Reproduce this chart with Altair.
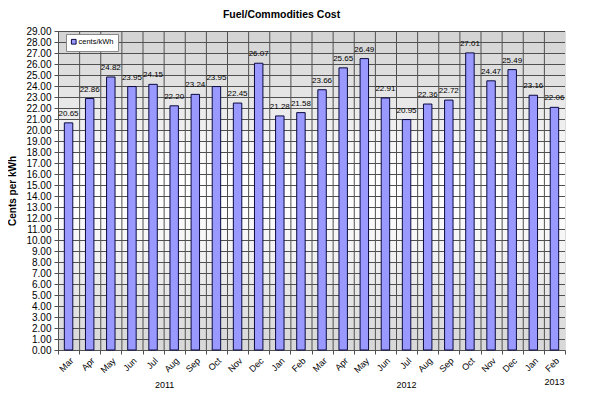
import altair as alt
import pandas as pd

months = ["Mar", "Apr", "May", "Jun", "Jul", "Aug", "Sep", "Oct", "Nov", "Dec",
          "Jan", "Feb", "Mar", "Apr", "May", "Jun", "Jul", "Aug", "Sep", "Oct",
          "Nov", "Dec", "Jan", "Feb"]
years = [2011] * 10 + [2012] * 12 + [2013] * 2
values = [20.65, 22.86, 24.82, 23.95, 24.15, 22.20, 23.24, 23.95, 22.45, 26.07,
          21.28, 21.58, 23.66, 25.65, 26.49, 22.91, 20.95, 22.36, 22.72, 27.01,
          24.47, 25.49, 23.16, 22.06]
series_name = "cents/kWh"
y_ticks = list(range(0, 30))

year_labels = ["2011", "2012", "2013"]
year_anchor_key = ["Aug 2011", "Jul 2012", "Feb 2013"]

keys = [f"{m} {y}" for m, y in zip(months, years)]
df = pd.DataFrame({"key": keys, "value": values, "series": series_name})
tick_df = pd.DataFrame({"t": y_ticks})
band_df = pd.DataFrame({"lo": y_ticks[:-1], "hi": y_ticks[1:]})
band_df["mid"] = (band_df["lo"] + band_df["hi"]) / 2
year_df = pd.DataFrame({"year": year_labels, "key": year_anchor_key})

FONT = "Liberation Sans"
GRID = "#505050"
W, H = 507, 319

y_scale = alt.Scale(domain=[0, 29], nice=False)
x_scale = alt.Scale(domain=keys, paddingInner=0, paddingOuter=0)

x_axis = alt.Axis(
    title=None,
    labelAngle=-45,
    labelExpr="split(datum.label, ' ')[0]",
    labelFont=FONT,
    labelFontSize=9,
    labelColor="#000000",
    tickBand="extent",
    grid=False,
    tickColor=GRID,
    tickSize=4,
    domainColor=GRID,
    labelPadding=2,
)
y_axis = alt.Axis(
    title="Cents per kWh",
    titleFont=FONT,
    titleFontSize=10,
    titleFontWeight="bold",
    titleColor="#000000",
    titlePadding=8,
    values=y_ticks,
    format=".2f",
    labelFont=FONT,
    labelFontSize=10,
    labelColor="#000000",
    labelOverlap=False,
    labelBound=False,
    grid=False,
    tickColor=GRID,
    tickSize=4,
    domainColor=GRID,
    labelPadding=3,
)

bg = alt.Chart(band_df).mark_rect(strokeWidth=0).encode(
    y=alt.Y("hi:Q", scale=y_scale, axis=y_axis),
    y2="lo:Q",
    fill=alt.Fill(
        "mid:Q",
        scale=alt.Scale(domain=[0, 13, 16, 29], range=["#d6d6d6", "#ffffff", "#ffffff", "#d2d2d2"]),
        legend=None,
    ),
)

hgrid = alt.Chart(tick_df).mark_rule(color=GRID, strokeWidth=1, yOffset=0.5).encode(
    y=alt.Y("t:Q", scale=y_scale, axis=y_axis)
)

vgrid = alt.Chart(df).mark_rule(color=GRID, strokeWidth=1, xOffset=0.5).encode(
    x=alt.X("key:N", sort=keys, scale=x_scale, bandPosition=0, axis=x_axis)
)

bars = alt.Chart(df).mark_bar(
    width=alt.RelativeBandSize(0.4),
    stroke="#0a0a40",
    strokeWidth=1,
).encode(
    x=alt.X("key:N", sort=keys, scale=x_scale, axis=x_axis),
    y=alt.Y("value:Q", scale=y_scale, axis=y_axis),
    color=alt.Color(
        "series:N",
        scale=alt.Scale(domain=[series_name], range=["#9999ff"]),
        legend=alt.Legend(
            title=None,
            orient="none",
            legendX=8,
            legendY=3,
            fillColor="#ffffff",
            strokeColor="#888888",
            padding=4,
            symbolType="square",
            symbolSize=22,
            symbolStrokeColor="#0a0a40",
            symbolStrokeWidth=1,
            labelFont=FONT,
            labelFontSize=7.5,
            labelColor="#000000",
            labelOffset=1,
        ),
    ),
)

labels = alt.Chart(df).mark_text(
    dy=-9, font=FONT, fontSize=8, color="#000000"
).encode(
    x=alt.X("key:N", sort=keys, scale=x_scale, axis=x_axis),
    y=alt.Y("value:Q", scale=y_scale, axis=y_axis),
    text=alt.Text("value:Q", format=".2f"),
)

year2011 = alt.Chart(year_df.iloc[[0]]).mark_text(
    font=FONT, fontSize=9, color="#000000", baseline="middle"
).encode(
    x=alt.X("key:N", sort=keys, scale=x_scale, bandPosition=0.05, axis=x_axis),
    y=alt.value(354),
    text="year:N",
)
year2012 = alt.Chart(year_df.iloc[[1]]).mark_text(
    font=FONT, fontSize=9, color="#000000", baseline="middle"
).encode(
    x=alt.X("key:N", sort=keys, scale=x_scale, bandPosition=0.5, axis=x_axis),
    y=alt.value(354),
    text="year:N",
)
year2013 = alt.Chart(year_df.iloc[[2]]).mark_text(
    font=FONT, fontSize=9, color="#000000", baseline="middle"
).encode(
    x=alt.X("key:N", sort=keys, scale=x_scale, bandPosition=0.5, axis=x_axis),
    y=alt.value(351),
    text="year:N",
)

chart = alt.layer(bg, hgrid, vgrid, bars, labels, year2011, year2012, year2013).properties(
    width=W,
    height=H,
    autosize=alt.AutoSizeParams(type="none"),
    padding={"left": 50, "top": 23, "right": 25, "bottom": 41},
    title=alt.TitleParams(
        "Fuel/Commodities Cost",
        font=FONT,
        fontSize=10.5,
        fontWeight="bold",
        color="#000000",
        dx=-30,
        offset=6,
        anchor="middle",
    ),
).configure_view(
    stroke="#888888",
    strokeWidth=1,
).configure(background="#ffffff")

chart.save("out.html", embed_options={"renderer": "svg", "actions": False})
